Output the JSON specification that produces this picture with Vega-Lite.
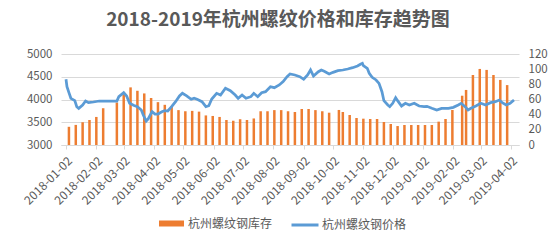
{
  "$schema": "https://vega.github.io/schema/vega-lite/v6.json",
  "width": 458,
  "height": 91,
  "autosize": {"type": "none"},
  "padding": {"left": 61, "top": 54, "right": 39, "bottom": 99},
  "background": "white",
  "config": {
    "view": {"stroke": null},
    "font": "Noto Sans CJK SC",
    "axis": {"labelFont": "Noto Sans CJK SC", "labelColor": "#595959", "labelFontSize": 11.5}
  },
  "title": {
    "text": "2018-2019年杭州螺纹价格和库存趋势图",
    "font": "Noto Sans CJK SC",
    "fontSize": 19,
    "fontWeight": "bold",
    "color": "#595959",
    "anchor": "middle",
    "frame": "group",
    "dx": -12,
    "offset": 18
  },
  "datasets": {
    "inv": [
      {"date": "2018-01-05", "inv": 24},
      {"date": "2018-01-12", "inv": 26.5},
      {"date": "2018-01-19", "inv": 30},
      {"date": "2018-01-26", "inv": 33},
      {"date": "2018-02-02", "inv": 37},
      {"date": "2018-02-09", "inv": 48.5},
      {"date": "2018-02-23", "inv": 56},
      {"date": "2018-03-02", "inv": 67},
      {"date": "2018-03-09", "inv": 76},
      {"date": "2018-03-16", "inv": 71.5},
      {"date": "2018-03-23", "inv": 68},
      {"date": "2018-03-30", "inv": 62},
      {"date": "2018-04-06", "inv": 56.5},
      {"date": "2018-04-13", "inv": 53},
      {"date": "2018-04-20", "inv": 51.5},
      {"date": "2018-04-27", "inv": 46},
      {"date": "2018-05-04", "inv": 44.5},
      {"date": "2018-05-11", "inv": 45},
      {"date": "2018-05-18", "inv": 44},
      {"date": "2018-05-25", "inv": 39},
      {"date": "2018-06-01", "inv": 38.3},
      {"date": "2018-06-08", "inv": 37},
      {"date": "2018-06-15", "inv": 33},
      {"date": "2018-06-22", "inv": 32},
      {"date": "2018-06-29", "inv": 34},
      {"date": "2018-07-06", "inv": 33},
      {"date": "2018-07-13", "inv": 35},
      {"date": "2018-07-20", "inv": 44.5},
      {"date": "2018-07-27", "inv": 44.5},
      {"date": "2018-08-03", "inv": 46},
      {"date": "2018-08-10", "inv": 46},
      {"date": "2018-08-17", "inv": 44.5},
      {"date": "2018-08-24", "inv": 43.5},
      {"date": "2018-08-31", "inv": 47.5},
      {"date": "2018-09-07", "inv": 47.5},
      {"date": "2018-09-14", "inv": 46},
      {"date": "2018-09-21", "inv": 44.5},
      {"date": "2018-09-28", "inv": 42.6},
      {"date": "2018-10-08", "inv": 46.2},
      {"date": "2018-10-12", "inv": 43.5},
      {"date": "2018-10-19", "inv": 39.6},
      {"date": "2018-10-26", "inv": 35.6},
      {"date": "2018-11-02", "inv": 34.7},
      {"date": "2018-11-09", "inv": 34.3},
      {"date": "2018-11-16", "inv": 34.3},
      {"date": "2018-11-23", "inv": 30.3},
      {"date": "2018-11-30", "inv": 27.7},
      {"date": "2018-12-07", "inv": 25},
      {"date": "2018-12-14", "inv": 26.4},
      {"date": "2018-12-21", "inv": 26.4},
      {"date": "2018-12-28", "inv": 26.4},
      {"date": "2019-01-04", "inv": 26.4},
      {"date": "2019-01-11", "inv": 26.4},
      {"date": "2019-01-18", "inv": 30.8},
      {"date": "2019-01-25", "inv": 34.3},
      {"date": "2019-02-01", "inv": 46.2},
      {"date": "2019-02-11", "inv": 65},
      {"date": "2019-02-15", "inv": 72.6},
      {"date": "2019-02-22", "inv": 92.3},
      {"date": "2019-03-01", "inv": 100.3},
      {"date": "2019-03-08", "inv": 99},
      {"date": "2019-03-15", "inv": 92.3},
      {"date": "2019-03-22", "inv": 85.8},
      {"date": "2019-03-29", "inv": 79}
    ],
    "price": [
      {"date": "2018-01-02", "price": 4444},
      {"date": "2018-01-03", "price": 4281},
      {"date": "2018-01-05", "price": 4150},
      {"date": "2018-01-07", "price": 4026},
      {"date": "2018-01-11", "price": 3974},
      {"date": "2018-01-13", "price": 3842},
      {"date": "2018-01-15", "price": 3806},
      {"date": "2018-01-19", "price": 3879},
      {"date": "2018-01-22", "price": 3967},
      {"date": "2018-01-25", "price": 3930},
      {"date": "2018-01-30", "price": 3945},
      {"date": "2018-02-05", "price": 3967},
      {"date": "2018-02-12", "price": 3967},
      {"date": "2018-02-23", "price": 3967},
      {"date": "2018-02-25", "price": 4062},
      {"date": "2018-03-02", "price": 4150},
      {"date": "2018-03-05", "price": 4077},
      {"date": "2018-03-08", "price": 3916},
      {"date": "2018-03-12", "price": 3872},
      {"date": "2018-03-16", "price": 3842},
      {"date": "2018-03-20", "price": 3769},
      {"date": "2018-03-22", "price": 3659},
      {"date": "2018-03-25", "price": 3527},
      {"date": "2018-03-27", "price": 3571},
      {"date": "2018-03-31", "price": 3732},
      {"date": "2018-04-03", "price": 3681},
      {"date": "2018-04-06", "price": 3681},
      {"date": "2018-04-10", "price": 3732},
      {"date": "2018-04-13", "price": 3754},
      {"date": "2018-04-16", "price": 3747},
      {"date": "2018-04-20", "price": 3842},
      {"date": "2018-04-24", "price": 3952},
      {"date": "2018-04-28", "price": 4077},
      {"date": "2018-05-01", "price": 4136},
      {"date": "2018-05-05", "price": 4084},
      {"date": "2018-05-10", "price": 4004},
      {"date": "2018-05-13", "price": 4026},
      {"date": "2018-05-16", "price": 4004},
      {"date": "2018-05-21", "price": 3952},
      {"date": "2018-05-25", "price": 3842},
      {"date": "2018-05-28", "price": 3864},
      {"date": "2018-05-31", "price": 4010},
      {"date": "2018-06-05", "price": 4136},
      {"date": "2018-06-09", "price": 4099},
      {"date": "2018-06-14", "price": 4246},
      {"date": "2018-06-19", "price": 4194},
      {"date": "2018-06-24", "price": 4099},
      {"date": "2018-06-27", "price": 4026},
      {"date": "2018-07-01", "price": 4099},
      {"date": "2018-07-05", "price": 4026},
      {"date": "2018-07-10", "price": 4062},
      {"date": "2018-07-13", "price": 4136},
      {"date": "2018-07-17", "price": 4062},
      {"date": "2018-07-21", "price": 4150},
      {"date": "2018-07-25", "price": 4172},
      {"date": "2018-07-30", "price": 4282},
      {"date": "2018-08-03", "price": 4260},
      {"date": "2018-08-08", "price": 4319},
      {"date": "2018-08-12", "price": 4392},
      {"date": "2018-08-16", "price": 4502},
      {"date": "2018-08-19", "price": 4560},
      {"date": "2018-08-24", "price": 4538},
      {"date": "2018-08-29", "price": 4502},
      {"date": "2018-09-02", "price": 4444},
      {"date": "2018-09-06", "price": 4538},
      {"date": "2018-09-09", "price": 4648},
      {"date": "2018-09-12", "price": 4516},
      {"date": "2018-09-17", "price": 4611},
      {"date": "2018-09-20", "price": 4648},
      {"date": "2018-09-23", "price": 4620},
      {"date": "2018-09-28", "price": 4560},
      {"date": "2018-10-02", "price": 4597},
      {"date": "2018-10-07", "price": 4633},
      {"date": "2018-10-12", "price": 4648},
      {"date": "2018-10-17", "price": 4670},
      {"date": "2018-10-22", "price": 4699},
      {"date": "2018-10-27", "price": 4736},
      {"date": "2018-10-30", "price": 4773},
      {"date": "2018-11-01", "price": 4795},
      {"date": "2018-11-02", "price": 4743},
      {"date": "2018-11-06", "price": 4685},
      {"date": "2018-11-08", "price": 4575},
      {"date": "2018-11-11", "price": 4487},
      {"date": "2018-11-15", "price": 4429},
      {"date": "2018-11-18", "price": 4355},
      {"date": "2018-11-21", "price": 4172},
      {"date": "2018-11-23", "price": 3974},
      {"date": "2018-11-27", "price": 3879},
      {"date": "2018-11-29", "price": 3842},
      {"date": "2018-12-02", "price": 3916},
      {"date": "2018-12-05", "price": 4040},
      {"date": "2018-12-07", "price": 3974},
      {"date": "2018-12-11", "price": 3857},
      {"date": "2018-12-15", "price": 3916},
      {"date": "2018-12-19", "price": 3879},
      {"date": "2018-12-24", "price": 3916},
      {"date": "2018-12-29", "price": 3857},
      {"date": "2019-01-03", "price": 3842},
      {"date": "2019-01-06", "price": 3850},
      {"date": "2019-01-11", "price": 3806},
      {"date": "2019-01-16", "price": 3769},
      {"date": "2019-01-21", "price": 3806},
      {"date": "2019-01-28", "price": 3806},
      {"date": "2019-02-02", "price": 3828},
      {"date": "2019-02-07", "price": 3879},
      {"date": "2019-02-10", "price": 3916},
      {"date": "2019-02-14", "price": 3842},
      {"date": "2019-02-17", "price": 3769},
      {"date": "2019-02-20", "price": 3806},
      {"date": "2019-02-25", "price": 3857},
      {"date": "2019-03-02", "price": 3916},
      {"date": "2019-03-07", "price": 3879},
      {"date": "2019-03-12", "price": 3930},
      {"date": "2019-03-17", "price": 3952},
      {"date": "2019-03-21", "price": 3989},
      {"date": "2019-03-24", "price": 3930},
      {"date": "2019-03-28", "price": 3879},
      {"date": "2019-04-01", "price": 3916},
      {"date": "2019-04-05", "price": 3989}
    ]
  },
  "encoding": {
    "x": {
      "field": "date", "type": "temporal",
      "scale": {"type": "utc", "domain": [{"year": 2018, "month": 1, "date": 2, "utc": true}, {"year": 2019, "month": 4, "date": 5, "utc": true}]},
      "axis": {
        "title": null,
        "format": "%Y-%m-%d",
        "labelAngle": -45,
        "labelFontSize": 12,
        "labelPadding": 6,
        "tickSize": 4,
        "tickColor": "#D9D9D9",
        "domainColor": "#D9D9D9",
        "grid": false,
        "labelOverlap": false,
        "labelFlush": false,
        "labelBound": false,
        "values": [
          {"year": 2018, "month": 1, "date": 2, "utc": true},
          {"year": 2018, "month": 2, "date": 2, "utc": true},
          {"year": 2018, "month": 3, "date": 2, "utc": true},
          {"year": 2018, "month": 4, "date": 2, "utc": true},
          {"year": 2018, "month": 5, "date": 2, "utc": true},
          {"year": 2018, "month": 6, "date": 2, "utc": true},
          {"year": 2018, "month": 7, "date": 2, "utc": true},
          {"year": 2018, "month": 8, "date": 2, "utc": true},
          {"year": 2018, "month": 9, "date": 2, "utc": true},
          {"year": 2018, "month": 10, "date": 2, "utc": true},
          {"year": 2018, "month": 11, "date": 2, "utc": true},
          {"year": 2018, "month": 12, "date": 2, "utc": true},
          {"year": 2019, "month": 1, "date": 2, "utc": true},
          {"year": 2019, "month": 2, "date": 2, "utc": true},
          {"year": 2019, "month": 3, "date": 2, "utc": true},
          {"year": 2019, "month": 4, "date": 2, "utc": true}
        ]
      }
    }
  },
  "layer": [
    {
      "data": {"name": "inv"},
      "mark": {"type": "bar", "size": 2.5},
      "encoding": {
        "y": {
          "field": "inv", "type": "quantitative",
          "scale": {"domain": [0, 120], "nice": false},
          "axis": {"orient": "right", "title": null, "values": [0, 20, 40, 60, 80, 100, 120], "grid": false, "domain": false, "ticks": false, "labelPadding": 9}
        },
        "fill": {
          "datum": "杭州螺纹钢库存",
          "scale": {"range": ["#ED7D31"]},
          "legend": {
            "title": null,
            "orient": "none",
            "legendX": 98,
            "legendY": 157,
            "symbolType": "M-1,-0.24H1V0.24H-1Z",
            "symbolSize": 625,
            "symbolStrokeWidth": 0,
            "labelFont": "Noto Sans CJK SC",
            "labelFontSize": 12,
            "labelColor": "#595959",
            "labelOffset": 4,
            "padding": 0
          }
        }
      }
    },
    {
      "data": {"name": "price"},
      "mark": {"type": "line", "strokeWidth": 2.75, "interpolate": "linear"},
      "encoding": {
        "y": {
          "field": "price", "type": "quantitative",
          "scale": {"domain": [3000, 5000], "nice": false},
          "axis": {"orient": "left", "title": null, "format": "d", "values": [3000, 3500, 4000, 4500, 5000], "grid": true, "gridColor": "#D9D9D9", "domain": false, "ticks": false, "labelPadding": 9}
        },
        "stroke": {
          "datum": "杭州螺纹钢价格",
          "scale": {"range": ["#5B9BD5"]},
          "legend": {
            "title": null,
            "orient": "none",
            "legendX": 229,
            "legendY": 156,
            "symbolType": "stroke",
            "symbolSize": 729,
            "symbolStrokeWidth": 3,
            "labelFont": "Noto Sans CJK SC",
            "labelFontSize": 12,
            "labelColor": "#595959",
            "labelOffset": 2,
            "padding": 0
          }
        }
      }
    }
  ],
  "resolve": {"scale": {"y": "independent"}}
}
